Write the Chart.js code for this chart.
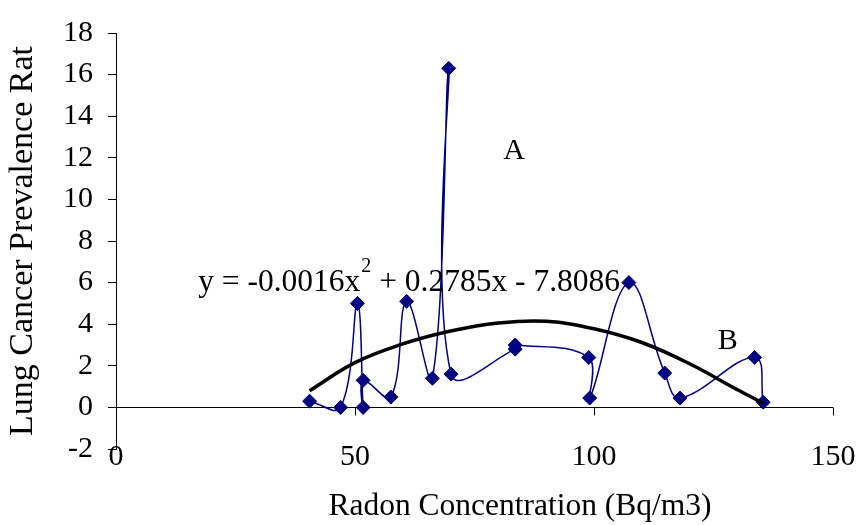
<!DOCTYPE html>
<html>
<head>
<meta charset="utf-8">
<script src="https://cdn.jsdelivr.net/npm/chart.js@4.4.1/dist/chart.umd.min.js"></script>
<style>
html,body{margin:0;padding:0;background:#fff;}
#wrap{width:860px;height:525px;}
</style>
</head>
<body>
<div id="wrap"><canvas id="c" width="860" height="525"></canvas></div>
<script>
// ---- data ----
const radonX      = [40.5, 47.0, 50.5, 51.7, 51.7, 57.5, 60.8, 66.2, 69.6, 70.1, 83.5, 83.5, 98.9, 99.1, 107.3, 114.8, 118.0, 133.6, 135.4];
const prevalenceY = [0.30, 0.00, 5.00, 0.00, 1.30, 0.50, 5.10, 1.40, 16.3, 1.60, 2.80, 3.00, 2.40, 0.45, 6.00, 1.65, 0.45, 2.40, 0.25];
const trendX = [40.5, 50, 60, 70, 80, 90, 100, 110, 120, 130, 135.4];
const trendY = [0.80, 2.15, 3.05, 3.67, 4.06, 4.14, 3.78, 3.12, 2.10, 0.85, 0.20];
const xTicks = [0, 50, 100, 150];
const yTicks = [-2, 0, 2, 4, 6, 8, 10, 12, 14, 16, 18];
const xTitle = 'Radon Concentration (Bq/m3)';
const yTitle = 'Lung Cancer Prevalence Rat';
const equationParts = ['y = -0.0016x', '2', ' + 0.2785x - 7.8086'];
const labelA = 'A';
const labelB = 'B';

const SERIF = '"Liberation Serif", "Times New Roman", Times, serif';

const annotPlugin = {
  id: 'annot',
  beforeDatasetsDraw(chart) {
    const ctx = chart.ctx, xs = chart.scales.x, ys = chart.scales.y;
    const y0 = Math.round(ys.getPixelForValue(0)) + 0.5;
    ctx.save();
    ctx.strokeStyle = '#000';
    ctx.lineWidth = 1;
    ctx.beginPath();
    xs.ticks.forEach(t => {
      if (t.value === 0) return;
      const px = Math.round(xs.getPixelForValue(t.value)) + 0.5;
      ctx.moveTo(px, y0);
      ctx.lineTo(px, y0 + 8);
    });
    ctx.stroke();
    ctx.restore();
  },
  afterDraw(chart) {
    const ctx = chart.ctx, xs = chart.scales.x, ys = chart.scales.y;
    ctx.save();
    ctx.fillStyle = '#000';
    // x tick labels (below the plot, from the x scale's ticks)
    ctx.textAlign = 'center';
    ctx.textBaseline = 'middle';
    ctx.font = '30px ' + SERIF;
    xs.ticks.forEach(t => {
      ctx.fillText(String(t.value), xs.getPixelForValue(t.value), xs.top + 8);
    });
    // equation
    ctx.textBaseline = 'alphabetic';
    ctx.textAlign = 'left';
    let ex = xs.getPixelForValue(17.2);
    const ey = ys.getPixelForValue(5.6);
    ctx.font = '31.5px ' + SERIF;
    ctx.fillText(equationParts[0], ex, ey);
    ex += ctx.measureText(equationParts[0]).width + 1;
    ctx.font = '20px ' + SERIF;
    ctx.fillText(equationParts[1], ex, ey - 19);
    ex += ctx.measureText(equationParts[1]).width;
    ctx.font = '31.5px ' + SERIF;
    ctx.fillText(equationParts[2], ex, ey);
    // A / B labels
    ctx.textAlign = 'center';
    ctx.textBaseline = 'middle';
    ctx.font = '30px ' + SERIF;
    ctx.fillText(labelA, xs.getPixelForValue(83.3), ys.getPixelForValue(12.3));
    ctx.fillText(labelB, xs.getPixelForValue(128.0), ys.getPixelForValue(3.19));
    // x axis title
    ctx.font = '31.5px ' + SERIF;
    ctx.fillText(xTitle, 520, 507);
    ctx.restore();
  }
};

new Chart(document.getElementById('c'), {
  type: 'scatter',
  data: {
    datasets: [
      {
        label: 'trend',
        data: trendX.map((x, i) => ({x: x, y: trendY[i]})),
        showLine: true,
        borderColor: '#000',
        borderWidth: 3.5,
        pointRadius: 0,
        tension: 0.4,
        fill: false
      },
      {
        label: 'prevalence',
        data: radonX.map((x, i) => ({x: x, y: prevalenceY[i]})),
        showLine: true,
        borderColor: '#000080',
        borderWidth: 1.5,
        tension: 0.4,
        pointStyle: 'rectRot',
        pointRadius: 7,
        pointBackgroundColor: '#000080',
        pointBorderColor: '#000080',
        pointBorderWidth: 1,
        fill: false
      }
    ]
  },
  options: {
    responsive: false,
    animation: false,
    devicePixelRatio: 1,
    layout: {padding: {top: 25, right: 27, left: 0, bottom: 0}},
    plugins: {legend: {display: false}, tooltip: {enabled: false}},
    scales: {
      x: {
        type: 'linear',
        position: 'bottom',
        min: 0, max: 150,
        afterBuildTicks: s => { s.ticks = xTicks.map(v => ({value: v})); },
        afterFit: s => { s.height = 76; },
        grid: {display: false},
        border: {display: false},
        ticks: {display: false}
      },
      y: {
        type: 'linear',
        position: 'left',
        min: -2, max: 18,
        afterBuildTicks: s => { s.ticks = yTicks.map(v => ({value: v})); },
        afterFit: s => { s.width = 116; },
        grid: {
          drawOnChartArea: true,
          color: c => (c.tick && c.tick.value === 0) ? '#000' : 'rgba(0,0,0,0)',
          tickColor: '#000',
          tickLength: 8,
          lineWidth: 1
        },
        border: {display: true, color: '#000', width: 1},
        ticks: {
          color: '#000',
          font: {family: SERIF, size: 30},
          padding: 15
        },
        title: {
          display: true,
          text: yTitle,
          color: '#000',
          font: {family: SERIF, size: 34},
          padding: {top: 3, bottom: 0}
        }
      }
    }
  },
  plugins: [annotPlugin]
});
</script>
</body>
</html>
